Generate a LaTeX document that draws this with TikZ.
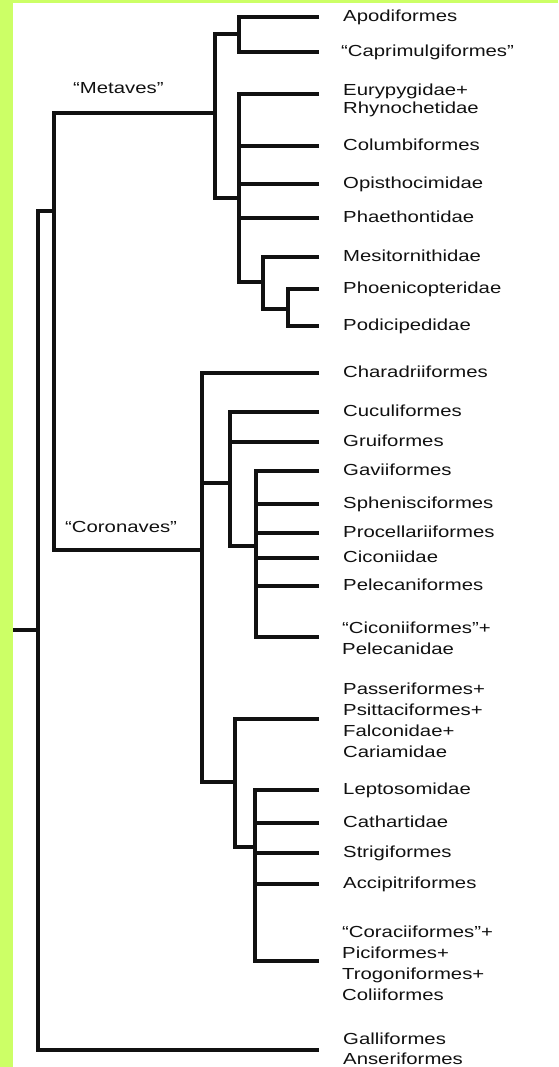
\documentclass[tikz,border=0pt]{standalone}
\usepackage{fontspec}
\setmainfont{Liberation Sans}[FakeStretch=1.27]
\definecolor{lime}{HTML}{CCFF66}
\definecolor{ink}{HTML}{111111}
\begin{document}
\begin{tikzpicture}[x=1pt,y=-1pt,
  br/.style={draw=ink,line width=4.6pt},
  lab/.style={anchor=base west,inner sep=0pt,text=ink,font=\fontsize{16}{21}\selectfont},
  mlab/.style={anchor=north west,inner sep=0pt,text=ink,align=left,font=\fontsize{16}{21}\selectfont},
  clade/.style={anchor=base west,inner sep=0pt,text=ink,font=\fontsize{16}{21}\selectfont}]
\useasboundingbox (0,0) rectangle (558,1067);
\fill[lime] (0,0) rectangle (558,1067);
\fill[white] (13,3) rectangle (558,1067);

% leaf tips (line ends)
\foreach \n/\y in {apo/17,cap/52,eur/94,col/146,opi/184,pha/218,mes/257,pho/289,pod/326,
  cha/373,cuc/412,gru/442,gav/471,sph/504,pro/533,cic/558,pel/586,cip/637,
  pas/719,lep/790,cat/823,str/853,acc/884,cor/961,gal/1050}
  \coordinate (\n) at (319,\y);

% labels
\node[lab] (Lapo) at (343,21.2) {Apodiformes};
\node[lab] (Lcap) at (341,56.2) {“Caprimulgiformes”};
\node[mlab,font=\fontsize{16}{18}\selectfont] (Leur) at (343,83.4) {Eurypygidae+\\Rhynochetidae};
\node[lab] (Lcol) at (343,150.2) {Columbiformes};
\node[lab] (Lopi) at (343,188.2) {Opisthocimidae};
\node[lab] (Lpha) at (343,222.2) {Phaethontidae};
\node[lab] (Lmes) at (343,261.2) {Mesitornithidae};
\node[lab] (Lpho) at (343,293.2) {Phoenicopteridae};
\node[lab] (Lpod) at (343,330.2) {Podicipedidae};
\node[lab] (Lcha) at (343,377.2) {Charadriiformes};
\node[lab] (Lcuc) at (343,416.2) {Cuculiformes};
\node[lab] (Lgru) at (343,446.2) {Gruiformes};
\node[lab] (Lgav) at (343,475.2) {Gaviiformes};
\node[lab] (Lsph) at (343,508.2) {Sphenisciformes};
\node[lab] (Lpro) at (343,537.2) {Procellariiformes};
\node[lab] (Lcic) at (343,562.2) {Ciconiidae};
\node[lab] (Lpel) at (343,590.2) {Pelecaniformes};
\node[mlab] (Lcip) at (342,621.8) {“Ciconiiformes”+\\Pelecanidae};
\node[mlab] (Lpas) at (343,682.4) {Passeriformes+\\Psittaciformes+\\Falconidae+\\Cariamidae};
\node[lab] (Llep) at (343,794.2) {Leptosomidae};
\node[lab] (Lcat) at (343,827.2) {Cathartidae};
\node[lab] (Lstr) at (343,857.2) {Strigiformes};
\node[lab] (Lacc) at (343,888.2) {Accipitriformes};
\node[mlab] (Lcor) at (342,925.4) {“Coraciiformes”+\\Piciformes+\\Trogoniformes+\\Coliiformes};
\node[mlab,font=\fontsize{16}{20}\selectfont] (Lgal) at (343,1032.4) {Galliformes\\Anseriformes};

\node[clade] (metaves) at (73,94) {“Metaves”};
\node[clade] (coronaves) at (65,532) {“Coronaves”};

% internal nodes (vertical bar, stem height)
\coordinate (A) at (239,34);
\coordinate (B) at (288,309);
\coordinate (C) at (263,282);
\coordinate (D) at (239,198);
\coordinate (E) at (215,113);
\coordinate (F) at (256,546);
\coordinate (G) at (230,483);
\coordinate (H) at (255,847);
\coordinate (I) at (235,782);
\coordinate (J) at (202,550);
\coordinate (K) at (54,211);
\coordinate (R) at (38,630);
\coordinate (R0) at (13,630);

% Metaves
\draw[br] (apo) -| (A) |- (cap);
\draw[br] (pho) -| (B) |- (pod);
\draw[br] (mes) -| (C) |- (B);
\draw[br] (eur) -| (D) |- (C);
\draw[br] (col) -- (col -| D);
\draw[br] (opi) -- (opi -| D);
\draw[br] (pha) -- (pha -| D);
\draw[br] (A) -| (E) |- (D);

% Coronaves
\draw[br] (gav) -| (F) |- (cip);
\draw[br] (sph) -- (sph -| F);
\draw[br] (pro) -- (pro -| F);
\draw[br] (cic) -- (cic -| F);
\draw[br] (pel) -- (pel -| F);
\draw[br] (cuc) -| (G) |- (F);
\draw[br] (gru) -- (gru -| G);
\draw[br] (lep) -| (H) |- (cor);
\draw[br] (cat) -- (cat -| H);
\draw[br] (str) -- (str -| H);
\draw[br] (acc) -- (acc -| H);
\draw[br] (pas) -| (I) |- (H);
\draw[br] (cha) -| (J) |- (I);
\draw[br] (G) -- (G -| J);

% deep nodes
\draw[br] (E) -| (K) |- (J);
\draw[br] (K) -| (R) |- (gal);
\draw[br] (R) -- (R0);
\end{tikzpicture}
\end{document}
